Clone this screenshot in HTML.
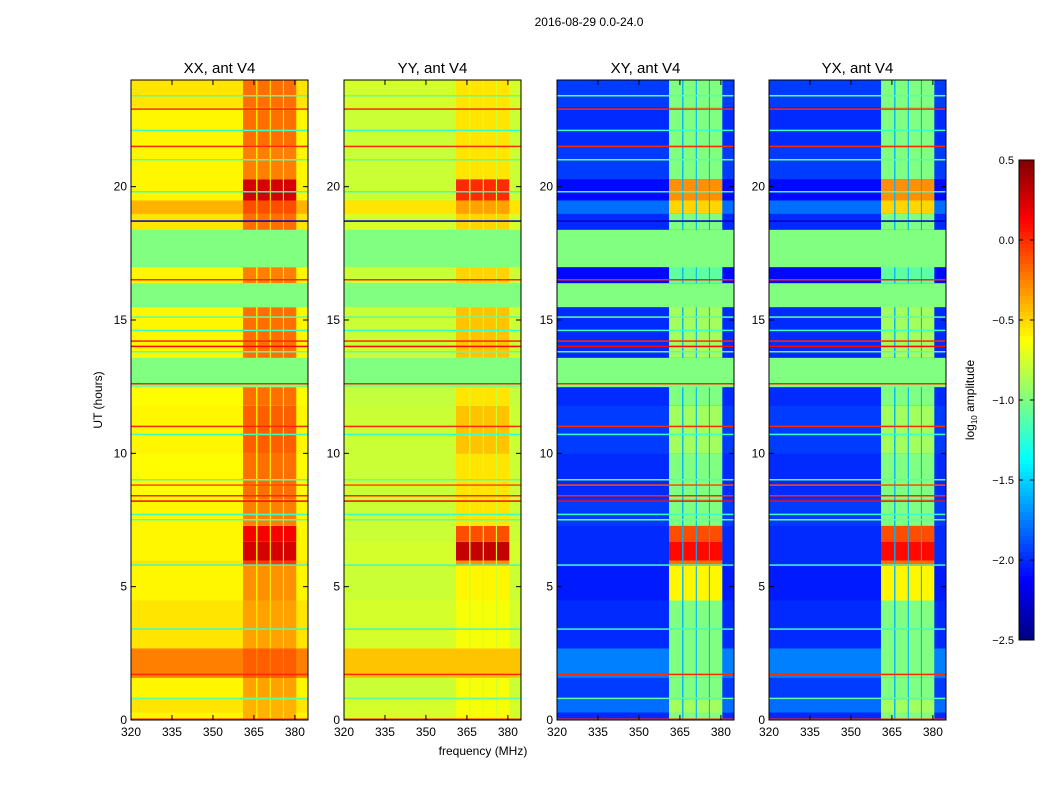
<!DOCTYPE html>
<html><head><meta charset="utf-8">
<style>
html,body{margin:0;padding:0;background:#fff;}
svg text{font-family:"Liberation Sans",sans-serif;}
</style></head>
<body>
<svg id="chart" width="1050" height="800" xmlns="http://www.w3.org/2000/svg">
<text x="589" y="26" font-size="12" text-anchor="middle">2016-08-29 0.0-24.0</text>
<text x="102" y="400" font-size="12" text-anchor="middle" transform="rotate(-90 102 400)">UT (hours)</text>
<text x="483" y="755" font-size="12" text-anchor="middle">frequency (MHz)</text>
<text x="974" y="400" font-size="12" text-anchor="middle" transform="rotate(-90 974 400)">log<tspan font-size="8" dy="3">10</tspan><tspan dy="-3"> amplitude</tspan></text>
<g id="panels"></g>
<g id="cbar"></g>
</svg>
<script>
// ---- data ----
const panelTitles = ["XX, ant V4","YY, ant V4","XY, ant V4","YX, ant V4"];
const segStart = [0.0,0.3,0.8,1.6,2.7,4.5,5.8,6.0,6.7,7.3,8.3,10.0,11.8,12.5,13.6,15.5,16.4,17.0,18.4,19.0,19.5,20.3,21.5,23.0];
const segEnd   = [0.3,0.8,1.6,2.7,4.5,5.8,6.0,6.7,7.3,8.3,10.0,11.8,12.5,13.6,15.5,16.4,17.0,18.4,19.0,19.5,20.3,21.5,23.0,24.0];
const xxBg  = [-0.6,-0.55,-0.6,-0.25,-0.55,-0.6,-0.55,-0.6,-0.6,-0.6,-0.62,-0.6,-0.62,-1.0,-0.6,-1.0,-0.6,-1.0,-0.55,-0.4,-0.6,-0.6,-0.6,-0.55];
const xxRfi = [-0.4,-0.4,-0.35,-0.15,-0.35,-0.3,-0.05,0.25,0.15,-0.25,-0.2,-0.15,-0.2,-1.0,-0.2,-1.0,-0.25,-1.0,-0.2,-0.1,0.25,-0.25,-0.2,-0.2];
const yyBg  = [-0.75,-0.75,-0.78,-0.45,-0.75,-0.78,-0.75,-0.75,-0.78,-0.78,-0.78,-0.78,-0.8,-1.0,-0.78,-1.0,-0.78,-1.0,-0.75,-0.55,-0.78,-0.78,-0.78,-0.75];
const yyRfi = [-0.65,-0.65,-0.65,-0.45,-0.65,-0.6,-0.3,0.3,-0.1,-0.55,-0.55,-0.45,-0.55,-1.0,-0.45,-1.0,-0.5,-1.0,-0.5,-0.35,0.0,-0.55,-0.55,-0.55];
const xyBg  = [-2.0,-1.8,-1.95,-1.75,-2.0,-2.05,-2.0,-2.0,-2.0,-1.95,-2.0,-1.95,-2.0,-1.0,-2.0,-1.0,-2.1,-1.0,-2.0,-1.8,-2.1,-1.95,-2.0,-1.95];
const xyRfi = [-1.0,-0.9,-1.0,-1.0,-1.0,-0.6,-0.2,0.1,-0.1,-1.0,-1.0,-0.9,-1.0,-1.0,-0.9,-1.0,-1.1,-1.0,-1.0,-0.5,-0.3,-1.0,-1.0,-1.0];
const yxBg  = xyBg.slice();
const yxRfi = xyRfi.slice();
const rfiStartF = [361,366.3,371.2,376];
const rfiEndF   = [365.8,370.8,375.6,380.5];
const lineHours = [0.02,1.7,8.2,8.4,8.8,11.0,12.6,14.0,14.2,16.5,18.7,21.5,22.9,0.8,3.4,5.8,7.5,7.7,9.0,10.7,13.8,14.6,15.1,19.8,21.0,22.1,23.4];
const lineVals  = [0.0,0.0,0.1,0.0,-0.1,0.0,0.0,0.1,0.0,0.0,-2.3,0.0,0.0,-1.1,-1.2,-1.2,-1.1,-1.2,-1.1,-1.2,-1.1,-1.2,-1.1,-1.2,-1.1,-1.2,-1.1];
const xTicks = [320,335,350,365,380];
const yTicks = [0,5,10,15,20];
const cbTicks = [0.5,0.0,-0.5,-1.0,-1.5,-2.0,-2.5];
// ---- geometry ----
const panelLeft=[131,344,557,769], PW=177, PT=80, PH=640;
const fMin=320, fMax=384.8, vMin=-2.5, vMax=0.5;
function xs(f,p){return panelLeft[p]+(f-fMin)/(fMax-fMin)*PW;}
function ys(h){return PT+PH-(h/24)*PH;}
function jet(v){let t=Math.max(0,Math.min(1,(v-vMin)/(vMax-vMin)));
 const c=x=>Math.round(255*Math.max(0,Math.min(1,x)));
 return `rgb(${c(1.5-Math.abs(4*t-3))},${c(1.5-Math.abs(4*t-2))},${c(1.5-Math.abs(4*t-1))})`;}
const NS="http://www.w3.org/2000/svg";
function mk(tag,attrs,parent){const e=document.createElementNS(NS,tag);for(const k in attrs)e.setAttribute(k,attrs[k]);parent.appendChild(e);return e;}
const bgs=[xxBg,yyBg,xyBg,yxBg], rfis=[xxRfi,yyRfi,xyRfi,yxRfi];
const G=document.getElementById('panels');
for(let p=0;p<4;p++){
 const g=mk('g',{},G);
 
 
 for(let i=0;i<segStart.length;i++){
  const y0=ys(segEnd[i]), y1=ys(segStart[i]);
  const r=mk('rect',{x:panelLeft[p],y:y0,width:PW,height:y1-y0+0.5,fill:jet(bgs[p][i])},g);
  
  
  const flagged = bgs[p][i]===-1.0;
  const gapv = flagged ? -1.0 : (p<2 ? bgs[p][i] : -1.6);
  const gr=mk('rect',{x:xs(rfiStartF[0],p),y:y0,width:xs(rfiEndF[3],p)-xs(rfiStartF[0],p),height:y1-y0+0.5,fill:jet(gapv)},g);
  
  
  for(let k=0;k<rfiStartF.length;k++){
   const rr=mk('rect',{x:xs(rfiStartF[k],p),y:y0,width:xs(rfiEndF[k],p)-xs(rfiStartF[k],p),height:y1-y0+0.5,fill:jet(rfis[p][i])},g);
   
   
  }
 }
 for(let j=0;j<lineHours.length;j++){
  const l=mk('rect',{x:panelLeft[p],y:ys(lineHours[j])-1,width:PW,height:1.5,fill:jet(lineVals[j])},g);
  
  
 }
 const fr=mk('rect',{x:panelLeft[p],y:PT,width:PW,height:PH,fill:'none',stroke:'#000','stroke-width':1},g);
 
 
 const t=mk('text',{x:panelLeft[p]+PW/2,y:PT-7,'font-size':15,'text-anchor':'middle'},g);
 t.textContent=panelTitles[p];
 
 
 for(const f of xTicks){
  const x=xs(f,p);
  mk('line',{x1:x,x2:x,y1:PT+PH,y2:PT+PH-5,stroke:'#000'},g);
  mk('line',{x1:x,x2:x,y1:PT,y2:PT+5,stroke:'#000'},g);
  const tx=mk('text',{x:x,y:PT+PH+16,'font-size':12,'text-anchor':'middle'},g);
  tx.textContent=f;
  
  
 }
 for(const h of yTicks){
  const y=ys(h);
  mk('line',{x1:panelLeft[p],x2:panelLeft[p]+5,y1:y,y2:y,stroke:'#000'},g);
  mk('line',{x1:panelLeft[p]+PW,x2:panelLeft[p]+PW-5,y1:y,y2:y,stroke:'#000'},g);
  const ty=mk('text',{x:panelLeft[p]-4,y:y+4,'font-size':12,'text-anchor':'end'},g);
  ty.textContent=h;
  
  
 }
}
// colorbar
const C=document.getElementById('cbar');


const CX=1019,CW=15,CT=160,CH=480;
for(let i=0;i<120;i++){
 const v=vMax-(i+0.5)/120*(vMax-vMin);
 mk('rect',{x:CX,y:CT+i*CH/120,width:CW,height:CH/120+0.5,fill:jet(v)},C);
}
mk('rect',{x:CX,y:CT,width:CW,height:CH,fill:'none',stroke:'#000'},C);
for(const v of cbTicks){
 const y=CT+(vMax-v)/(vMax-vMin)*CH;
 mk('line',{x1:CX,x2:CX+4,y1:y,y2:y,stroke:'#000'},C);
 mk('line',{x1:CX+CW,x2:CX+CW-4,y1:y,y2:y,stroke:'#000'},C);
 const t=mk('text',{x:CX-5,y:y+4,'font-size':11,'text-anchor':'end'},C);
 t.textContent=(v<0?'\u2212':'')+Math.abs(v).toFixed(1);
 
 
}
</script>
</body></html>
